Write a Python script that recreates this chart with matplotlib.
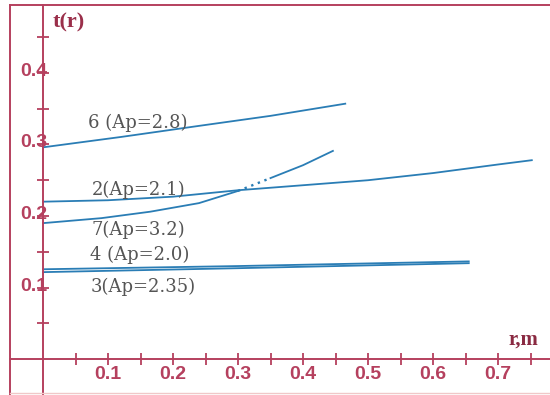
import numpy as np
import matplotlib
matplotlib.use("Agg")
import matplotlib.pyplot as plt
from matplotlib.lines import Line2D
from matplotlib.ticker import FixedLocator, FixedFormatter
from matplotlib.transforms import ScaledTranslation

# curve data: r (m) and t(r)
r6 = [0.0, 0.12, 0.24, 0.35, 0.465]
t6 = [0.296, 0.3105, 0.326, 0.340, 0.357]

r2 = [0.0, 0.10, 0.20, 0.30, 0.40, 0.50, 0.60, 0.70, 0.752]
t2 = [0.220, 0.222, 0.227, 0.236, 0.243, 0.250, 0.260, 0.272, 0.278]

r7 = [0.0, 0.09, 0.165, 0.24, 0.30, 0.35, 0.40, 0.446]
t7 = [0.190, 0.197, 0.206, 0.218, 0.235, 0.253, 0.271, 0.291]

r4 = [0.0, 0.30, 0.655]
t4 = [0.1255, 0.130, 0.1365]

r3 = [0.0, 0.30, 0.655]
t3 = [0.1215, 0.127, 0.134]

labels = ["6 (Ap=2.8)", "2(Ap=2.1)", "7(Ap=3.2)", "4 (Ap=2.0)", "3(Ap=2.35)"]
label_pos = [(0.069, 0.323), (0.075, 0.229), (0.075, 0.173), (0.072, 0.138), (0.074, 0.094)]

xtick_vals = [0.1, 0.2, 0.3, 0.4, 0.5, 0.6, 0.7]
ytick_vals = [0.1, 0.2, 0.3, 0.4]

axis_col = "#b5405e"
line_col = "#2a7db5"
text_col = "#555555"
lw = 1.3

fig = plt.figure(figsize=(5.5, 3.95), dpi=100)
ax = fig.add_axes([10/550, 0.0, 1 - 10/550, 1 - 5/395])
ax.set_xlim(-0.0508, 0.78)
ax.set_ylim(-0.0503, 0.495)

# axes through the origin
ax.spines["left"].set_position(("data", 0))
ax.spines["bottom"].set_position(("data", 0))
ax.spines["top"].set_visible(False)
ax.spines["right"].set_visible(False)
for s in ["left", "bottom"]:
    ax.spines[s].set_color(axis_col)
    ax.spines[s].set_linewidth(1.4)

ax.xaxis.set_major_locator(FixedLocator(xtick_vals))
ax.xaxis.set_minor_locator(FixedLocator([0.05, 0.15, 0.25, 0.35, 0.45, 0.55, 0.65, 0.75]))
ax.yaxis.set_major_locator(FixedLocator(ytick_vals))
ax.yaxis.set_minor_locator(FixedLocator([0.05, 0.15, 0.25, 0.35, 0.45]))
ax.xaxis.set_major_formatter(FixedFormatter([str(v) for v in xtick_vals]))
ax.yaxis.set_major_formatter(FixedFormatter([str(v) for v in ytick_vals]))
ax.tick_params(which="both", direction="inout", length=8, width=1.3, color=axis_col,
               labelcolor=axis_col, labelsize=14)
ax.tick_params(axis="y", pad=-7)
ax.tick_params(axis="x", pad=1)
shift = ScaledTranslation(0, -3/100, fig.dpi_scale_trans)
for lab in ax.get_xticklabels() + ax.get_yticklabels():
    lab.set_family("Liberation Sans")
    lab.set_weight("bold")
for lab in ax.get_yticklabels():
    lab.set_va("baseline")
    lab.set_transform(lab.get_transform() + shift)

# frame of the scanned figure
fig.add_artist(Line2D([10/550, 10/550], [0, 1 - 5/395], color=axis_col, lw=1.4))
fig.add_artist(Line2D([10/550, 1], [1 - 5/395, 1 - 5/395], color=axis_col, lw=1.4))
fig.add_artist(Line2D([10/550, 1], [2/395, 2/395], color="#f0c8c8", lw=1.0))

# curves
ax.plot(r6, t6, color=line_col, lw=lw)
ax.plot(r2, t2, color=line_col, lw=lw)
ax.plot(r7[:5], t7[:5], color=line_col, lw=lw)
ax.plot(r7[4:6], t7[4:6], color=line_col, lw=lw + 0.4, ls=(0, (1, 2)))
ax.plot(r7[5:], t7[5:], color=line_col, lw=lw)
ax.plot(r4, t4, color=line_col, lw=lw)
ax.plot(r3, t3, color=line_col, lw=lw)

for lab, (x, y) in zip(labels, label_pos):
    ax.text(x, y, lab, family="DejaVu Serif", fontsize=13, color=text_col,
            ha="left", va="baseline")

ax.text(0.015, 0.463, "t(r)", family="Liberation Serif", fontsize=16,
        weight="bold", color="#9a2f4a", ha="left", va="baseline")
ax.text(0.716, 0.0196, "r,m", family="Liberation Serif", fontsize=15,
        weight="bold", color="#8a2a42", ha="left", va="baseline")

fig.savefig("out.png", dpi=100)
